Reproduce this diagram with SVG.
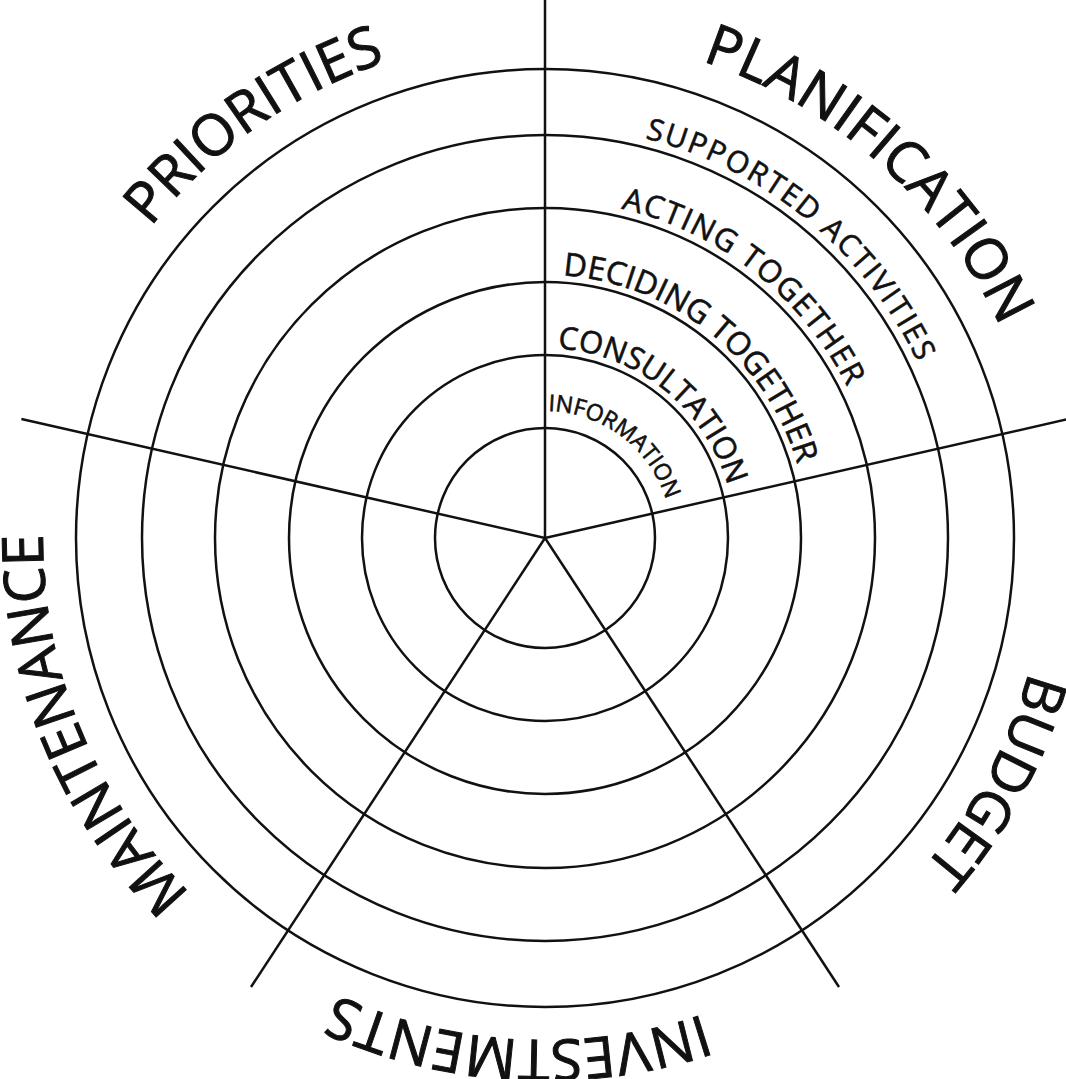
<svg xmlns="http://www.w3.org/2000/svg" width="1066" height="1079" viewBox="0 0 1066 1079">
<style>
.ring{fill:none;stroke:#111;stroke-width:2.5}
.spoke{stroke:#111;stroke-width:2.5;fill:none}
.outer{font-family:"Open Sans","Liberation Sans",sans-serif;font-size:57px;fill:#111;stroke:#111;stroke-width:1;text-anchor:middle}
.inner{font-family:"Open Sans","Liberation Sans",sans-serif;fill:#111;stroke:#111;stroke-width:0.6;text-anchor:middle}
</style>
<defs>
<path id="p500" d="M545,36 A502,502 0 1 1 545,1040 A502,502 0 1 1 545,36"/>
<path id="p412" d="M545,126 A412,412 0 1 1 545,950 A412,412 0 1 1 545,126"/>
<path id="p338" d="M545,200 A338,338 0 1 1 545,876 A338,338 0 1 1 545,200"/>
<path id="p263" d="M545,275 A263,263 0 1 1 545,801 A263,263 0 1 1 545,275"/>
<path id="p190" d="M545,348 A190,190 0 1 1 545,728 A190,190 0 1 1 545,348"/>
<path id="p127" d="M545,411 A127,127 0 1 1 545,665 A127,127 0 1 1 545,411"/>
</defs>
<rect width="1066" height="1079" fill="#fff"/>
<g id="rings">
<circle class="ring" cx="545" cy="538" r="110"/>
<circle class="ring" cx="545" cy="538" r="183"/>
<circle class="ring" cx="545" cy="538" r="256"/>
<circle class="ring" cx="545" cy="538" r="330"/>
<circle class="ring" cx="545" cy="538" r="403"/>
<circle class="ring" cx="545" cy="538" r="469"/>
</g>
<g id="connectors">
<line class="spoke" x1="545" y1="538" x2="545" y2="0"/>
<line class="spoke" x1="545" y1="538" x2="1068.6" y2="419"/>
<line class="spoke" x1="545" y1="538" x2="21.4" y2="419"/>
<line class="spoke" x1="545" y1="538" x2="251" y2="987"/>
<line class="spoke" x1="545" y1="538" x2="839" y2="987"/>
</g>
<g id="level-labels">
<text class="inner" font-size="30" letter-spacing="2"><textPath href="#p412" startOffset="284">SUPPORTED ACTIVITIES</textPath></text>
<text class="inner" font-size="31" letter-spacing="1.5"><textPath href="#p338" startOffset="226">ACTING TOGETHER</textPath></text>
<text class="inner" font-size="32"><textPath href="#p263" startOffset="178">DECIDING TOGETHER</textPath></text>
<text class="inner" font-size="31"><textPath href="#p190" startOffset="129">CONSULTATION</textPath></text>
<text class="inner" font-size="23"><textPath href="#p127" startOffset="82">INFORMATION</textPath></text>
</g>
<g id="priorities"><text class="outer"><textPath href="#p500" startOffset="2846">PRIORITIES</textPath></text></g>
<g id="planification"><text class="outer"><textPath href="#p500" startOffset="365">PLANIFICATION</textPath></text></g>
<g id="budget"><text class="outer"><textPath href="#p500" startOffset="1036">BUDGET</textPath></text></g>
<g id="investments"><text class="outer"><textPath href="#p500" startOffset="1604">INVESTMENTS</textPath></text></g>
<g id="maintenance"><text class="outer"><textPath href="#p500" startOffset="2170">MAINTENANCE</textPath></text></g>
</svg>
